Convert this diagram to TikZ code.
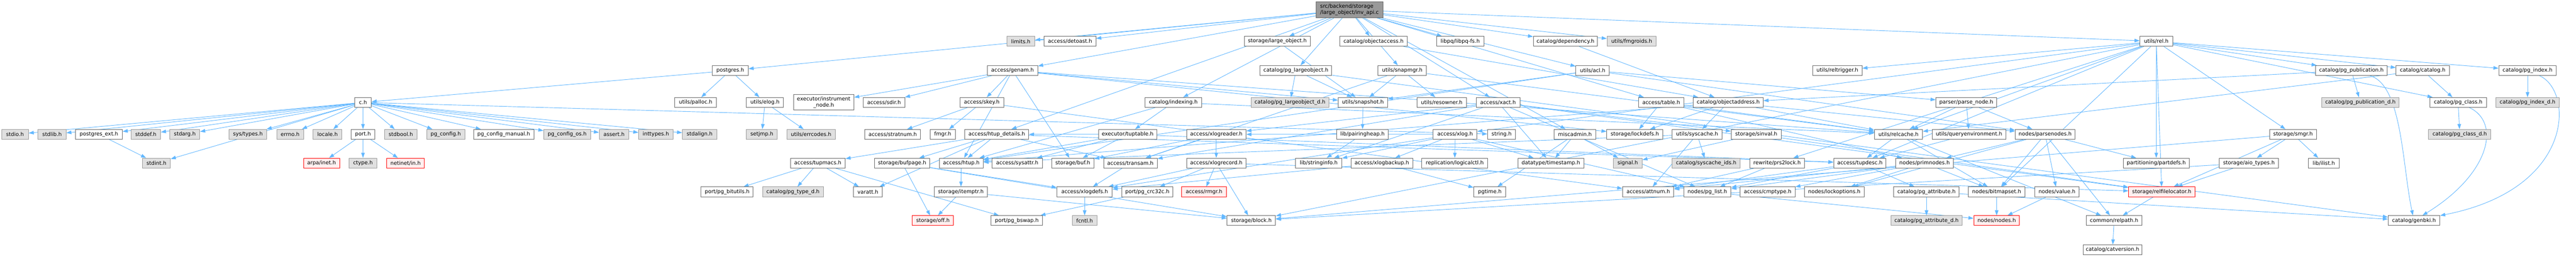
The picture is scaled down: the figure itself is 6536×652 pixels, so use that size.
\documentclass[tikz,border=0pt]{standalone}
\usepackage{fontspec}
\setmainfont{DejaVu Sans}
\usetikzlibrary{arrows.meta}
\definecolor{edgeblue}{HTML}{63B8FF}
\definecolor{nodeborder}{HTML}{666666}
\definecolor{greyfill}{HTML}{E0E0E0}
\definecolor{greyborder}{HTML}{999999}
\definecolor{redfill}{HTML}{FFF0F0}
\definecolor{rootfill}{HTML}{999999}
\newcommand{\nfont}{\fontsize{13.3}{15.5}\selectfont}
\newcommand{\mknode}[6]{\node[#1, minimum width=#5pt] (#2) at (#3,#4) {#6};}
\pgfdeclarelayer{background}
\pgfsetlayers{background,main}
\tikzset{
  nd/.style={draw=nodeborder, fill=white, line width=1.3pt, minimum height=25pt, inner xsep=2pt, inner ysep=0pt, font=\nfont, text=black},
  gy/.style={nd, draw=greyborder, fill=greyfill},
  rd/.style={nd, draw=red, fill=redfill},
  rt/.style={nd, fill=rootfill, minimum height=40pt, align=left},
  tw/.style={nd, minimum height=39pt, align=center},
  edge/.style={draw=edgeblue, line width=1.2pt, -{Triangle[length=13pt,width=9pt]}}
}
\begin{document}
\begin{tikzpicture}[x=1pt,y=-1pt]
\useasboundingbox (0,0) rectangle (6536,652);
% row 25
\mknode{rt}{root}{3424}{25}{169}{src/backend/storage\\/large\_object/inv\_api.c}
% row 105
\mknode{gy}{limits}{2590}{105}{71}{limits.h}
\mknode{nd}{detoast}{2715}{105}{131}{access/detoast.h}
\mknode{nd}{largeobj}{3241}{105}{167}{storage/large\_object.h}
\mknode{nd}{objaccess}{3485}{105}{171}{catalog/objectaccess.h}
\mknode{nd}{libpqfs}{3705}{105}{120}{libpq/libpq-fs.h}
\mknode{nd}{dependency}{3972}{105}{163}{catalog/dependency.h}
\mknode{gy}{fmgroids}{4140}{105}{125}{utils/fmgroids.h}
\mknode{nd}{rel}{5471}{105}{83}{utils/rel.h}
% row 179
\mknode{nd}{postgres}{1853}{179}{91}{postgres.h}
\mknode{nd}{genam}{2569}{179}{128}{access/genam.h}
\mknode{nd}{pglo}{3288}{179}{182}{catalog/pg\_largeobject.h}
\mknode{nd}{snapmgr}{3558}{179}{123}{utils/snapmgr.h}
\mknode{nd}{acl}{4041}{179}{85}{utils/acl.h}
\mknode{nd}{reltrigger}{4662}{179}{125}{utils/reltrigger.h}
\mknode{nd}{pgpub}{5966}{179}{181}{catalog/pg\_publication.h}
\mknode{nd}{catalog}{6147}{179}{135}{catalog/catalog.h}
\mknode{nd}{pgindex}{6413}{179}{146}{catalog/pg\_index.h}
% row 260
\mknode{nd}{ch}{921}{260}{42}{c.h}
\mknode{nd}{palloc}{1765}{260}{106}{utils/palloc.h}
\mknode{nd}{elog}{1941}{260}{94}{utils/elog.h}
\mknode{tw}{instr}{2090}{260}{153}{executor/instrument\\\_node.h}
\mknode{nd}{sdir}{2243}{260}{105}{access/sdir.h}
\mknode{nd}{skey}{2491}{260}{111}{access/skey.h}
\mknode{nd}{indexing}{2977}{260}{143}{catalog/indexing.h}
\mknode{gy}{pglod}{3273}{260}{198}{catalog/pg\_largeobject\_d.h}
\mknode{nd}{snapshot}{3458}{260}{125}{utils/snapshot.h}
\mknode{nd}{resowner}{3658}{260}{125}{utils/resowner.h}
\mknode{nd}{xact}{3801}{260}{111}{access/xact.h}
\mknode{nd}{table}{4215}{260}{115}{access/table.h}
\mknode{nd}{objaddr}{4385}{260}{177}{catalog/objectaddress.h}
\mknode{nd}{parsenode}{4989}{260}{154}{parser/parse\_node.h}
\mknode{gy}{pgpubd}{5989}{260}{196}{catalog/pg\_publication\_d.h}
\mknode{nd}{pgclass}{6237}{260}{143}{catalog/pg\_class.h}
\mknode{gy}{pgindexd}{6413}{260}{160}{catalog/pg\_index\_d.h}
% row 341
\mknode{gy}{stdio}{38}{341}{68}{stdio.h}
\mknode{gy}{stdlib}{132}{341}{71}{stdlib.h}
\mknode{nd}{pgext}{251}{341}{119}{postgres\_ext.h}
\mknode{gy}{stddef}{370}{341}{75}{stddef.h}
\mknode{gy}{stdarg}{469}{341}{76}{stdarg.h}
\mknode{gy}{systypes}{629}{341}{96}{sys/types.h}
\mknode{gy}{errno}{736}{341}{68}{errno.h}
\mknode{gy}{locale}{831}{341}{73}{locale.h}
\mknode{nd}{port}{921}{341}{60}{port.h}
\mknode{gy}{stdbool}{1017}{341}{83}{stdbool.h}
\mknode{gy}{pgconfig}{1131}{341}{97}{pg\_config.h}
\mknode{nd}{pgconfman}{1278}{341}{153}{pg\_config\_manual.h}
\mknode{gy}{pgconfos}{1439}{341}{119}{pg\_config\_os.h}
\mknode{gy}{assert}{1558}{341}{75}{assert.h}
\mknode{gy}{inttypes}{1664}{341}{87}{inttypes.h}
\mknode{gy}{stdalign}{1775}{341}{87}{stdalign.h}
\mknode{gy}{setjmp}{1933}{341}{79}{setjmp.h}
\mknode{gy}{errcodes}{2058}{341}{123}{utils/errcodes.h}
\mknode{nd}{stratnum}{2265}{341}{141}{access/stratnum.h}
\mknode{nd}{fmgr}{2392}{341}{64}{fmgr.h}
\mknode{nd}{htupd}{2529}{341}{162}{access/htup\_details.h}
\mknode{nd}{tuptable}{2861}{341}{148}{executor/tuptable.h}
\mknode{nd}{xlogreader}{3086}{341}{151}{access/xlogreader.h}
\mknode{nd}{pairing}{3457}{341}{131}{lib/pairingheap.h}
\mknode{nd}{xlog}{3692}{341}{111}{access/xlog.h}
\mknode{nd}{string}{3810}{341}{71}{string.h}
\mknode{nd}{misc}{3996}{341}{106}{miscadmin.h}
\mknode{nd}{lockdefs}{4148}{341}{142}{storage/lockdefs.h}
\mknode{nd}{syscache}{4306}{341}{127}{utils/syscache.h}
\mknode{nd}{sinval}{4456}{341}{127}{storage/sinval.h}
\mknode{nd}{relcache}{4817}{341}{122}{utils/relcache.h}
\mknode{nd}{queryenv}{4996}{341}{187}{utils/queryenvironment.h}
\mknode{nd}{parsenodes}{5189}{341}{152}{nodes/parsenodes.h}
\mknode{nd}{smgr}{5818}{341}{119}{storage/smgr.h}
\mknode{gy}{pgclassd}{6241}{341}{158}{catalog/pg\_class\_d.h}
% row 414
\mknode{gy}{stdint}{397}{414}{71}{stdint.h}
\mknode{rd}{arpa}{816}{414}{92}{arpa/inet.h}
\mknode{gy}{ctype}{921}{414}{71}{ctype.h}
\mknode{rd}{netinet}{1029}{414}{96}{netinet/in.h}
\mknode{nd}{tupmacs}{2075}{414}{139}{access/tupmacs.h}
\mknode{nd}{bufpage}{2289}{414}{140}{storage/bufpage.h}
\mknode{nd}{htup}{2439}{414}{111}{access/htup.h}
\mknode{nd}{sysattr}{2581}{414}{127}{access/sysattr.h}
\mknode{nd}{buf}{2722}{414}{107}{storage/buf.h}
\mknode{nd}{transam}{2868}{414}{136}{access/transam.h}
\mknode{nd}{xlogrecord}{3086}{414}{151}{access/xlogrecord.h}
\mknode{nd}{stringinfo}{3346}{414}{117}{lib/stringinfo.h}
\mknode{nd}{xlogbackup}{3506}{414}{157}{access/xlogbackup.h}
\mknode{nd}{logicalctl}{3691}{414}{167}{replication/logicalctl.h}
\mknode{nd}{timestamp}{3935}{414}{167}{datatype/timestamp.h}
\mknode{gy}{signal}{4130}{414}{73}{signal.h}
\mknode{gy}{syscacheids}{4329}{414}{172}{catalog/syscache\_ids.h}
\mknode{nd}{prs2lock}{4509}{414}{139}{rewrite/prs2lock.h}
\mknode{nd}{tupdesc}{4719}{414}{133}{access/tupdesc.h}
\mknode{nd}{primnodes}{4883}{414}{147}{nodes/primnodes.h}
\mknode{nd}{partdefs}{5471}{414}{167}{partitioning/partdefs.h}
\mknode{nd}{aiotypes}{5706}{414}{151}{storage/aio\_types.h}
\mknode{nd}{ilist}{5896}{414}{79}{lib/ilist.h}
% row 487
\mknode{nd}{bitutils}{1845}{487}{132}{port/pg\_bitutils.h}
\mknode{gy}{typed}{2012}{487}{154}{catalog/pg\_type\_d.h}
\mknode{nd}{varatt}{2202}{487}{73}{varatt.h}
\mknode{nd}{itemptr}{2438}{487}{135}{storage/itemptr.h}
\mknode{nd}{xlogdefs}{2752}{487}{140}{access/xlogdefs.h}
\mknode{nd}{crc}{2911}{487}{129}{port/pg\_crc32c.h}
\mknode{rd}{rmgr}{3055}{487}{113}{access/rmgr.h}
\mknode{nd}{pgtime}{3780}{487}{81}{pgtime.h}
\mknode{nd}{attnum}{4182}{487}{130}{access/attnum.h}
\mknode{nd}{pglist}{4332}{487}{120}{nodes/pg\_list.h}
\mknode{nd}{cmptype}{4485}{487}{139}{access/cmptype.h}
\mknode{nd}{lockopt}{4654}{487}{151}{nodes/lockoptions.h}
\mknode{nd}{pgattr}{4888}{487}{166}{catalog/pg\_attribute.h}
\mknode{nd}{bitmapset}{5066}{487}{143}{nodes/bitmapset.h}
\mknode{nd}{value}{5219}{487}{113}{nodes/value.h}
\mknode{rd}{relfile}{5485}{487}{168}{storage/relfilelocator.h}
% row 560
\mknode{rd}{off}{2367}{560}{104}{storage/off.h}
\mknode{nd}{bswap}{2580}{560}{130}{port/pg\_bswap.h}
\mknode{gy}{fcntl}{2752}{560}{62}{fcntl.h}
\mknode{nd}{block}{3175}{560}{123}{storage/block.h}
\mknode{gy}{pgattrd}{4888}{560}{180}{catalog/pg\_attribute\_d.h}
\mknode{rd}{nodes}{5066}{560}{116}{nodes/nodes.h}
\mknode{nd}{relpath}{5364}{560}{142}{common/relpath.h}
\mknode{nd}{genbki}{6125}{560}{131}{catalog/genbki.h}
% row 634
\mknode{nd}{catversion}{5360}{634}{149}{catalog/catversion.h}
\begin{pgfonlayer}{background}
\fill[white] (0,0) rectangle (6536,652);
\foreach \a/\b in {root/postgres, root/limits, root/detoast, root/genam, root/htupd, root/table, root/xact, root/dependency, root/indexing, root/objaccess, root/pglo, root/libpqfs, root/misc, root/largeobj, root/acl, root/fmgroids, root/rel, root/snapmgr,
postgres/ch, postgres/elog, postgres/palloc,
ch/stdio, ch/stdlib, ch/pgext, ch/stddef, ch/stdarg, ch/stdint, ch/systypes, ch/errno, ch/locale, ch/port, ch/stdbool, ch/pgconfig, ch/pgconfman, ch/pgconfos, ch/assert, ch/inttypes, ch/stdalign, ch/string,
pgext/stdint, port/arpa, port/ctype, port/netinet, elog/setjmp, elog/errcodes,
genam/htup, genam/sdir, genam/skey, genam/instr, genam/buf, genam/lockdefs, genam/relcache, genam/snapshot,
skey/attnum, skey/stratnum, skey/fmgr,
htupd/htup, htupd/transam, htupd/tupdesc, htupd/tupmacs, htupd/bufpage, htupd/varatt,
bufpage/xlogdefs, bufpage/block, bufpage/off, htup/itemptr, itemptr/block, itemptr/off,
tupmacs/typed, tupmacs/bitutils, tupmacs/bswap, tupmacs/varatt,
largeobj/snapshot, pglo/genbki, pglo/pglod, pglo/snapshot, objaccess/objaddr,
snapmgr/transam, snapmgr/relcache, snapmgr/resowner, snapmgr/snapshot, snapshot/pairing, pairing/stringinfo,
xact/transam, xact/xlogreader, xact/timestamp, xact/stringinfo, xact/pglist, xact/relfile, xact/sinval,
xlog/xlogbackup, xlog/xlogdefs, xlog/xlogreader, xlog/timestamp, xlog/stringinfo, xlog/pglist, xlog/logicalctl,
xlogreader/transam, xlogreader/xlogrecord, xlogreader/buf,
xlogrecord/rmgr, xlogrecord/xlogdefs, xlogrecord/crc, xlogrecord/block, xlogrecord/relfile,
transam/xlogdefs, xlogdefs/fcntl, crc/bswap,
tuptable/htup, tuptable/htupd, tuptable/sysattr, tuptable/tupdesc, tuptable/buf,
indexing/htup, indexing/tuptable, indexing/relcache, dependency/objaddr,
acl/htup, acl/parsenodes, acl/parsenode, acl/snapshot,
table/primnodes, table/lockdefs, table/relcache,
objaddr/htup, objaddr/parsenodes, objaddr/lockdefs, objaddr/relcache, objaddr/syscache,
misc/timestamp, misc/pgtime, misc/signal,
syscache/attnum, syscache/htup, syscache/syscacheids,
relcache/tupdesc, relcache/relpath, relcache/bitmapset,
sinval/signal, sinval/relfile, prs2lock/attnum, prs2lock/pglist,
tupdesc/attnum, tupdesc/pgattr, tupdesc/pglist,
primnodes/attnum, primnodes/cmptype, primnodes/bitmapset, primnodes/lockopt, primnodes/pglist,
pgattr/genbki, pgattr/pgattrd, pglist/nodes,
rel/tupdesc, rel/xlog, rel/catalog, rel/pgclass, rel/pgindex, rel/pgpub, rel/bitmapset, rel/partdefs, rel/prs2lock, rel/block, rel/relfile, rel/smgr, rel/relcache, rel/reltrigger,
catalog/pgclass, catalog/relcache,
pgclass/pgclassd, pgindex/pgindexd,
pgpub/objaddr, pgpub/pgpubd,
smgr/ilist, smgr/aiotypes, smgr/block, smgr/relfile, aiotypes/block, aiotypes/relfile,
relfile/relpath, relpath/catversion,
parsenodes/relpath, parsenodes/bitmapset, parsenodes/lockopt, parsenodes/primnodes, parsenodes/value, parsenodes/partdefs,
value/nodes, bitmapset/nodes,
parsenode/parsenodes, parsenode/queryenv, parsenode/relcache, queryenv/tupdesc,
xlogbackup/xlogdefs, xlogbackup/pgtime}
  \draw[edge] (\a) -- (\b);
\draw[edge] (pgindex) .. controls (6530,230) and (6535,480) .. (genbki);
\draw[edge] (pgclass) .. controls (6345,310) and (6320,440) .. (genbki);
\draw[edge] (pgpub) .. controls (6095,215) and (6095,420) .. (genbki);
\end{pgfonlayer}
\end{tikzpicture}
\end{document}
